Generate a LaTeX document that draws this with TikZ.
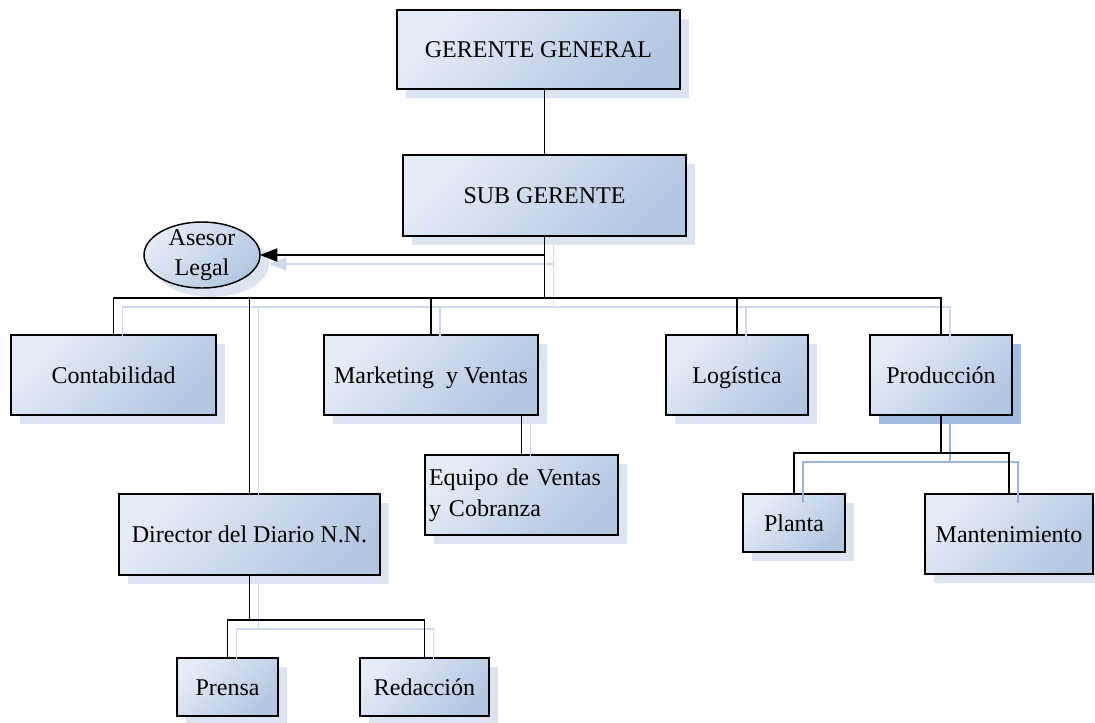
\documentclass[tikz,border=0pt]{standalone}
\usepackage{fontspec}
\setmainfont{Liberation Serif}
\usetikzlibrary{shapes.geometric,arrows.meta,shadows}

\definecolor{boxlight}{HTML}{E6ECF7}
\definecolor{boxdark}{HTML}{B3C6E2}
\definecolor{boxshade}{HTML}{DCE4F2}
\definecolor{boxshadedark}{HTML}{A3BCE1}
\definecolor{linkshade}{HTML}{CFDAEE}
\definecolor{linkshadedark}{HTML}{98B4DF}

% all connectors of the chart; drawn once as a soft offset shadow, once in black
\newcommand\orgchartlinks{%
  \draw[link] (sub.south) -- (bus);
  \draw[link, linkarrow] (sub.south |- asesor.east) -- (asesor.east);
  \draw[link] (cont.north) -- (cont.north |- bus) -- (prod.north |- bus) -- (prod.north);
  \draw[link] (dir.north) -- (dir.north |- bus);
  \draw[link] (mkt.north) -- (mkt.north |- bus);
  \draw[link] (log.north) -- (log.north |- bus);
  \draw[link] (mkt.south -| equipo.north) -- (equipo.north);
  \draw[link] (dir.south) -- (dsplit);
  \draw[link] (prensa.north) -- (prensa.north |- dsplit) -- (redac.north |- dsplit) -- (redac.north);
  \draw[thicklink] (prod.south) -- (psplit);
  \draw[thicklink] (planta.north) -- (planta.north |- psplit) -- (mant.north |- psplit) -- (mant.north);
}

\begin{document}
\begin{tikzpicture}[x=0.75pt, y=-0.75pt,
  boxcore/.style={rectangle, draw=black, line width=1.1pt,
    top color=boxlight, bottom color=boxdark, shading angle=45,
    font=\fontsize{18pt}{22.5pt}\selectfont, inner sep=3pt, outer sep=0pt,
    text height=12.3pt, text depth=0pt},
  orgbox/.style={boxcore,
    general shadow={fill=boxshade, shadow xshift=6.75pt, shadow yshift=-6.75pt}},
  selbox/.style={boxcore, line width=1.5pt,
    general shadow={fill=boxshadedark, shadow xshift=6.75pt, shadow yshift=-6.75pt}},
  advisor/.style={ellipse, draw=black, line width=1.1pt,
    top color=boxlight, bottom color=boxdark, shading angle=45,
    font=\fontsize{18pt}{22.5pt}\selectfont, align=center,
    inner xsep=0pt, inner ysep=-2pt, outer sep=0pt,
    general shadow={fill=boxshade, shadow xshift=6.75pt, shadow yshift=-6.75pt}},
  link/.style={draw=black, line width=0.8pt},
  thicklink/.style={draw=black, line width=1.5pt},
  linkarrow/.style={-{Triangle[length=13pt, width=10pt]}}
]
\useasboundingbox (0,0) rectangle (1095,722);
\clip (0,0) rectangle (1095,722);
\fill[white] (0,0) rectangle (1095,722);

% boxes
\node[orgbox, minimum width=212.25pt, minimum height=59.25pt] (gg) at (538.5,49.5) {GERENTE GENERAL};
\node[orgbox, minimum width=212.25pt, minimum height=60.75pt] (sub) at (544.5,195.5) {SUB GERENTE};
\node[advisor, minimum width=87pt, minimum height=49.5pt] (asesor) at (202,255) {Asesor\\Legal};

\node[orgbox, minimum width=153.75pt, minimum height=60pt] (cont) at (113.5,375) {Contabilidad};
\node[orgbox, minimum width=160.5pt, minimum height=60pt] (mkt) at (431,375) {Marketing~~y Ventas};
\node[orgbox, minimum width=106.5pt, minimum height=60pt] (log) at (737,375) {Logística};
\node[selbox, minimum width=106.5pt, minimum height=60pt] (prod) at (941,375) {Producción};

\node[orgbox, text height=, text depth=, text width=138.75pt, align=left, minimum height=60pt,
      font=\fontsize{18pt}{23pt}\selectfont] (equipo) at (521.5,495) {Equipo de Ventas\\y Cobranza};
\node[orgbox, minimum width=195.75pt, minimum height=60.75pt] (dir) at (249.5,534.5) {Director del Diario N.N.};

\node[orgbox, minimum width=76.5pt, minimum height=43.5pt] (planta) at (794,523) {Planta};
\node[orgbox, minimum width=126pt, minimum height=60pt] (mant) at (1009,534) {Mantenimiento};

\node[orgbox, minimum width=75.75pt, minimum height=43.5pt] (prensa) at (227.5,687) {Prensa};
\node[orgbox, minimum width=96.75pt, minimum height=43.5pt] (redac) at (424.5,687) {Redacción};

% junction points
\coordinate (bus) at (544.5,298);
\coordinate (dsplit) at (249.5,620);
\coordinate (psplit) at (941,453);

% connector shadows
\begin{scope}[transform canvas={shift={(9,9)}},
  link/.style={draw=linkshade, line width=1pt},
  thicklink/.style={draw=linkshadedark, line width=1pt}]
  \orgchartlinks
\end{scope}

% connectors
\draw[link] (gg.south -| sub.north) -- (sub.north);
\orgchartlinks
\end{tikzpicture}
\end{document}
